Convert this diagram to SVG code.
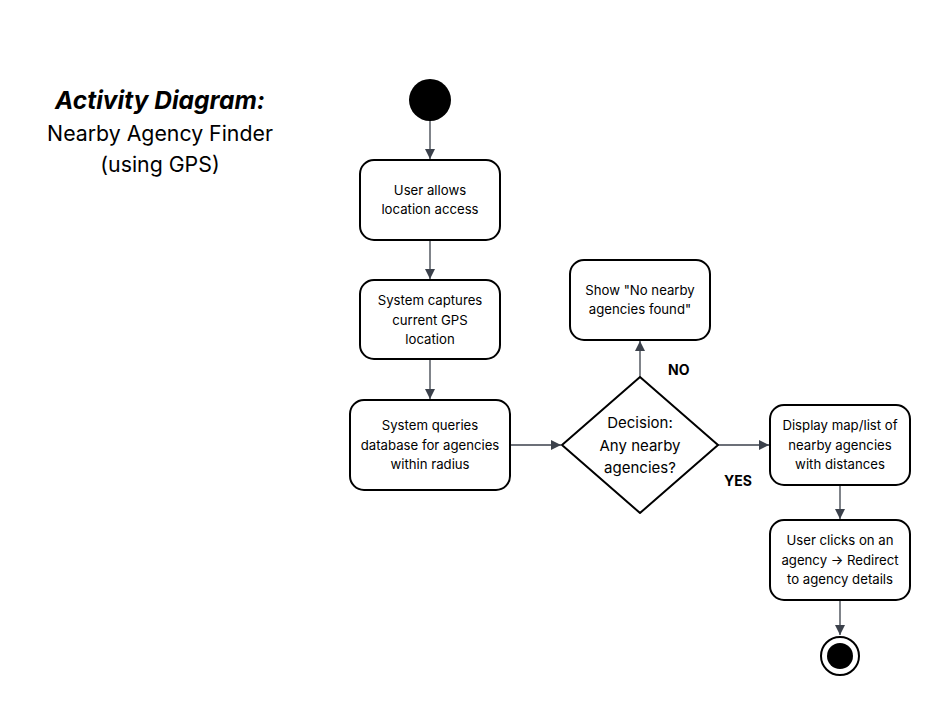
<svg xmlns="http://www.w3.org/2000/svg" width="950" height="715" viewBox="0 0 950 715">
<defs>
<marker id="arr" viewBox="0 0 10 10" refX="10" refY="5" markerWidth="10" markerHeight="11" markerUnits="userSpaceOnUse" orient="auto">
<path d="M0,0 L10,5 L0,10 z" fill="#3b414b"/>
</marker>
<style>
.box{fill:#fff;stroke:#000;stroke-width:2}
.t{font-family:Inter,"Liberation Sans",sans-serif;font-size:13.2px;fill:#000;text-anchor:middle}
.d{font-size:15px}
.c{fill:none;stroke:#3b414b;stroke-width:1.3;marker-end:url(#arr)}
.lbl{font-family:Inter,"Liberation Sans",sans-serif;font-size:14px;font-weight:bold;fill:#000}
</style>
</defs>
<rect width="950" height="715" fill="#fff"/>
<g id="title" font-family="Inter,'Liberation Sans',sans-serif" text-anchor="middle" fill="#000">
<text x="160" y="109" font-size="24.5" font-weight="bold" font-style="italic">Activity Diagram:</text>
<text x="160" y="141" font-size="21.3">Nearby Agency Finder</text>
<text x="160" y="172" font-size="21.3">(using GPS)</text>
</g>
<g id="connectors">
<path class="c" d="M430,121 V159"/>
<path class="c" d="M430,240 V279"/>
<path class="c" d="M430,359 V399"/>
<path class="c" d="M510,445 H561"/>
<path class="c" d="M640,377 V341"/>
<path class="c" d="M718,445 H769"/>
<path class="c" d="M840,485 V519"/>
<path class="c" d="M840,600 V635"/>
<text class="lbl" x="668" y="375">NO</text>
<text class="lbl" x="724" y="486">YES</text>
</g>
<g id="start"><circle cx="430" cy="100" r="21" fill="#000"/></g>
<g id="n1"><rect class="box" x="360" y="160" width="140" height="80" rx="14"/>
<text class="t" x="430" y="195">User allows</text><text class="t" x="430" y="214">location access</text></g>
<g id="n2"><rect class="box" x="360" y="280" width="140" height="79" rx="14"/>
<text class="t" x="430" y="305">System captures</text><text class="t" x="430" y="325">current GPS</text><text class="t" x="430" y="344">location</text></g>
<g id="n3"><rect class="box" x="350" y="400" width="160" height="90" rx="14"/>
<text class="t" x="430" y="430">System queries</text><text class="t" x="430" y="450">database for agencies</text><text class="t" x="430" y="469">within radius</text></g>
<g id="decision"><path class="box" stroke-linejoin="round" d="M640,377 L718,445 L640,513 L562,445 Z"/>
<text class="t d" x="640" y="428">Decision:</text><text class="t d" x="640" y="451">Any nearby</text><text class="t d" x="640" y="473">agencies?</text></g>
<g id="n4"><rect class="box" x="570" y="260" width="140" height="80" rx="14"/>
<text class="t" x="640" y="295">Show "No nearby</text><text class="t" x="640" y="314">agencies found"</text></g>
<g id="n5"><rect class="box" x="770" y="405" width="140" height="80" rx="14"/>
<text class="t" x="840" y="430">Display map/list of</text><text class="t" x="840" y="450">nearby agencies</text><text class="t" x="840" y="469">with distances</text></g>
<g id="n6"><rect class="box" x="770" y="520" width="140" height="80" rx="14"/>
<text class="t" x="840" y="545">User clicks on an</text><text class="t" x="840" y="565">agency → Redirect</text><text class="t" x="840" y="584">to agency details</text></g>
<g id="end"><circle cx="840" cy="656" r="19" fill="#fff" stroke="#000" stroke-width="2"/><circle cx="840" cy="656" r="13" fill="#000"/></g>
</svg>
